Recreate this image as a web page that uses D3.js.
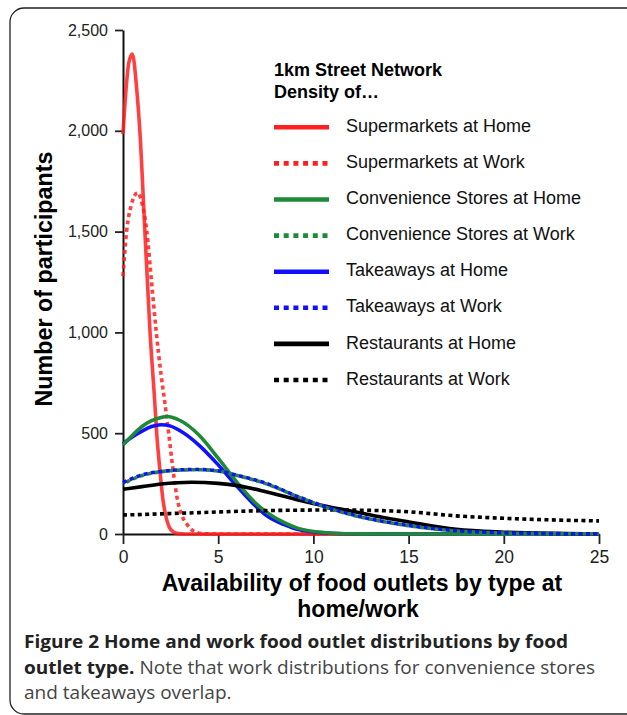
<!DOCTYPE html>
<html>
<head>
<meta charset="utf-8">
<script src="https://cdn.jsdelivr.net/npm/d3@7"></script>
<style>
  body { margin: 0; background: #fff; }
  svg { display: block; }
</style>
</head>
<body>
<svg id="chart" width="627" height="715"></svg>
<script>
// tick values
const xTicks = [0, 5, 10, 15, 20, 25];
const yTicks = [0, 500, 1000, 1500, 2000, 2500];

// series: [outlets, participants]
const supermarketsHome = [[0,1983],[0.16,2207],[0.31,2340],[0.49,2381],[0.72,2207],[0.89,1991],[1.15,1500],[1.42,1000],[1.66,666],[1.77,500],[1.92,335],[2.1,169],[2.3,70],[2.42,36],[2.65,10],[2.9,2],[3.3,0],[5,0],[10,0],[15,0],[20,0],[25,0]];
const supermarketsWork = [[0,1279],[0.19,1502],[0.42,1627],[0.77,1693],[1.0,1640],[1.25,1502],[1.5,1250],[1.75,1000],[2.0,790],[2.2,650],[2.4,500],[2.6,340],[2.85,175],[3.1,90],[3.35,50],[3.7,15],[4.2,2],[5,0],[10,0],[25,0]];
const convenienceHome = [[0,442],[0.5,490],[1,533],[1.5,562],[2,578],[2.3,583],[3,563],[4,490],[5,376],[6,255],[7,150],[7.5,111],[8.5,55],[9.2,28],[10.7,6],[12,1],[14,0],[25,0]];
const convenienceWork = [[0,250],[1,290],[2,309],[3,317],[4,319],[5,312],[6,290],[7.5,250],[9.2,184],[10.8,128],[12.4,86],[14,56],[15,41],[17,19],[20,5],[22.5,2],[25,1]];
const takeawaysHome = [[0,447],[0.5,482],[1,510],[1.5,533],[2,542],[2.5,535],[3,512],[4,440],[5,343],[6,235],[7,135],[7.5,94],[8.5,45],[9.2,22],[10.7,5],[12,1],[14,0],[25,0]];
const takeawaysWork = [[0,255],[1,293],[2,310],[3,318],[3.8,320],[5,313],[6,291],[7.5,252],[9.2,185],[10.8,130],[12.4,87],[14,57],[15,42],[17,20],[20,6],[22.5,2],[25,1]];
const restaurantsHome = [[0,222],[1,235],[2,248],[3.6,257],[5,251],[6,240],[7.5,210],[9.2,169],[10.8,135],[12.3,108],[13.9,78],[15,60],[17.5,23],[20,9],[22.5,3],[25,1]];
const restaurantsWork = [[0,94],[2,100],[4,106],[6.6,114],[9,118],[11,119],[12.5,118],[15,110],[17.5,90],[20,78],[22.5,70],[25,65]];

const legendTitle = ['1km Street Network', 'Density of\u2026'];
const legendNames = [
  'Supermarkets at Home', 'Supermarkets at Work',
  'Convenience Stores at Home', 'Convenience Stores at Work',
  'Takeaways at Home', 'Takeaways at Work',
  'Restaurants at Home', 'Restaurants at Work'
];
const xTitleLines = ['Availability of food outlets by type at', 'home/work'];

const red = '#ff1f1f', green = '#1f8a36', blue = '#1010ff', black = '#000';

// legend order
const series = [
  { name: legendNames[0], data: supermarketsHome, color: red,   dotted: false },
  { name: legendNames[1], data: supermarketsWork, color: red,   dotted: true },
  { name: legendNames[2], data: convenienceHome,  color: green, dotted: false },
  { name: legendNames[3], data: convenienceWork,  color: green, dotted: true },
  { name: legendNames[4], data: takeawaysHome,    color: blue,  dotted: false },
  { name: legendNames[5], data: takeawaysWork,    color: blue,  dotted: true },
  { name: legendNames[6], data: restaurantsHome,  color: black, dotted: false },
  { name: legendNames[7], data: restaurantsWork,  color: black, dotted: true },
];
// drawing order (bottom -> top)
const drawOrder = [0, 1, 4, 2, 6, 7, 3, 5];

const font = "'Liberation Sans', Arial, Helvetica, sans-serif";
const svg = d3.select('#chart');

// frame round the figure
svg.append('rect')
  .attr('x', 10).attr('y', 8)
  .attr('width', 660).attr('height', 706)
  .attr('rx', 14)
  .attr('fill', 'none')
  .attr('stroke', '#222')
  .attr('stroke-width', 1.3);

const x = d3.scaleLinear().domain([0, 25]).range([123, 599]);
const y = d3.scaleLinear().domain([0, 2500]).range([534, 30]);

// axes
const gy = svg.append('g')
  .attr('transform', `translate(${x(0)},0)`)
  .call(d3.axisLeft(y).tickValues(yTicks).tickFormat(d3.format(',')).tickSize(8).tickSizeOuter(0).tickPadding(7));

const gx = svg.append('g')
  .attr('transform', `translate(0,${y(0)})`)
  .call(d3.axisBottom(x).tickValues(xTicks).tickSize(10).tickSizeOuter(0).tickPadding(7));

[gy, gx].forEach(g => {
  g.attr('font-family', font);
  g.select('.domain').attr('stroke', '#111').attr('stroke-width', 2);
  g.selectAll('.tick line').attr('stroke', '#222').attr('stroke-width', 1.8);
  g.selectAll('.tick text').attr('fill', '#222');
});
gy.attr('font-size', 16);
gx.attr('font-size', 17.5);

// curves
const line = d3.line()
  .x(d => x(d[0]))
  .y(d => y(d[1]))
  .curve(d3.curveMonotoneX);

svg.append('g')
  .selectAll('path')
  .data(drawOrder.map(i => series[i]))
  .join('path')
  .attr('d', d => line(d.data))
  .attr('fill', 'none')
  .attr('stroke', d => d.color)
  .attr('stroke-width', 3.6)
  .attr('stroke-opacity', d => d.color === red ? 0.85 : 1)
  .attr('stroke-dasharray', d => d.dotted ? '4,3.4' : null)
  .attr('stroke-dashoffset', d => d.name === legendNames[3] ? 3.7 : 0);

// axis titles
svg.append('text')
  .attr('transform', 'translate(52,279) rotate(-90)')
  .attr('text-anchor', 'middle')
  .attr('font-family', font)
  .attr('font-weight', 'bold')
  .attr('font-size', 23.3)
  .attr('fill', '#000')
  .text('Number of participants');

svg.append('g')
  .selectAll('text')
  .data(xTitleLines)
  .join('text')
  .attr('x', (d, i) => i ? 358 : 362)
  .attr('y', (d, i) => i ? 617 : 591)
  .attr('text-anchor', 'middle')
  .attr('font-family', font)
  .attr('font-weight', 'bold')
  .attr('font-size', 23)
  .attr('fill', '#000')
  .text(d => d);

// legend
const legend = svg.append('g').attr('font-family', font);
legend.selectAll('text.title')
  .data(legendTitle)
  .join('text')
  .attr('class', 'title')
  .attr('x', 274)
  .attr('y', (d, i) => 76 + i * 22.3)
  .attr('font-weight', 'bold')
  .attr('font-size', 18)
  .attr('fill', '#000')
  .text(d => d);

const rows = legend.selectAll('g.row')
  .data(series)
  .join('g')
  .attr('class', 'row')
  .attr('transform', (d, i) => `translate(0,${127.3 + i * 36.1})`);

rows.append('line')
  .attr('x1', 274).attr('x2', 329)
  .attr('stroke', d => d.color)
  .attr('stroke-width', 4.6)
  .attr('stroke-dasharray', d => d.dotted ? '5,4.7' : null);

rows.append('text')
  .attr('x', 346)
  .attr('y', 4.6)
  .attr('font-size', 18)
  .attr('fill', '#111')
  .text(d => d.name);

// caption: narrow face in the figure, so the lines get squeezed horizontally
const capFont = "'Open Sans', 'Noto Sans', sans-serif";
const cap = svg.append('g').attr('font-family', capFont).attr('font-size', 18.4);

const l1 = cap.append('text')
  .attr('font-weight', 'bold').attr('fill', '#222')
  .text('Figure 2 Home and work food outlet distributions by food');

const l2 = cap.append('text');
l2.append('tspan').attr('font-weight', 'bold').attr('fill', '#222').text('outlet type.');
l2.append('tspan').attr('fill', '#444').text(' Note that work distributions for convenience stores');

const l3 = cap.append('text').attr('fill', '#444').text('and takeaways overlap.');

const sx = 544 / l1.node().getComputedTextLength();
[[l1, 648], [l2, 674], [l3, 699]].forEach(([t, yy]) => {
  t.attr('transform', `translate(24,${yy}) scale(${sx},1)`);
});
</script>
</body>
</html>
